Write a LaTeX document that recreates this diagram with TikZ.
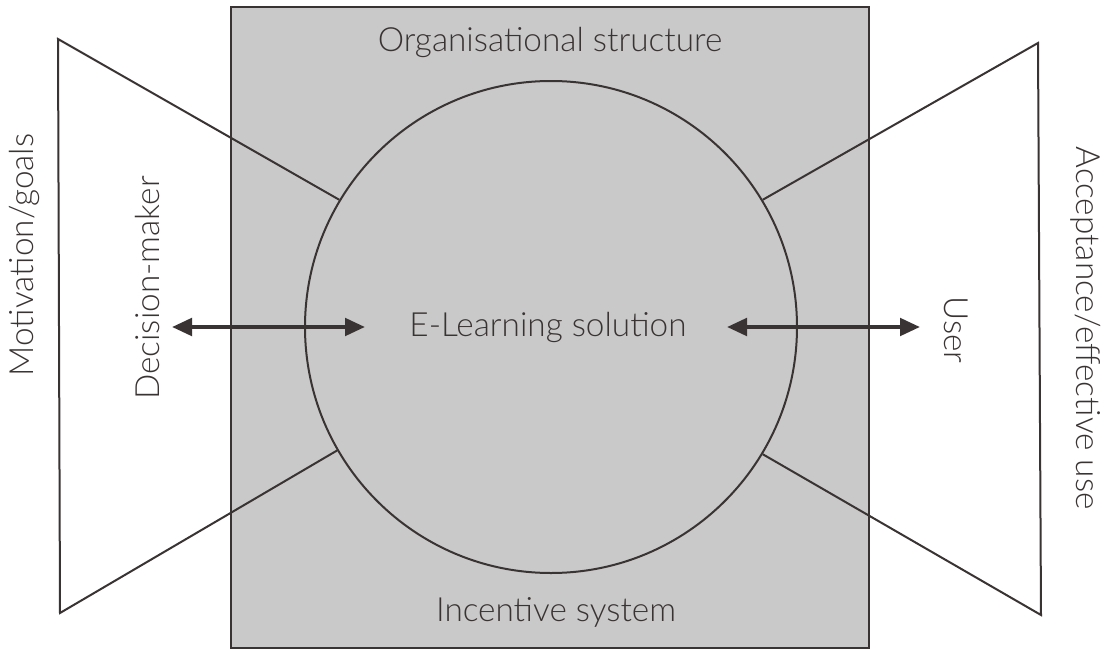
\documentclass[tikz,border=0pt]{standalone}
\usepackage{fontspec}
\setmainfont{Lato}[UprightFont=* Light]
\usetikzlibrary{arrows.meta}
\definecolor{ink}{HTML}{3A3333}
\definecolor{boxgray}{HTML}{C9C9C9}
\tikzset{
  edge/.style={draw=ink, line width=1.5pt},
  twoway/.style={draw=ink, line width=3pt, {Triangle[length=15pt,width=13pt]}-{Triangle[length=15pt,width=13pt]}},
  lbl/.style={text=ink, inner sep=0pt, font=\fontsize{25}{28}\selectfont},
}
\begin{document}
\begin{tikzpicture}[x=0.75pt, y=-0.75pt]
\useasboundingbox (0,0) rectangle (1108,650);
% square
\node[draw=ink, line width=1.8pt, fill=boxgray, minimum width=478.5pt, minimum height=480.75pt, inner sep=0pt] (sq) at (550,327.5) {};
% circle
\node[circle, draw=ink, line width=1.5pt, minimum size=369pt, inner sep=0pt] (c) at (551,327) {};
% left trapezoid
\coordinate (lt) at (58,39);
\coordinate (lb) at (60,613);
\draw[edge] (c.149) -- (lt) -- (lb) -- (c.210.5);
% right trapezoid
\coordinate (rt) at (1038,43);
\coordinate (rb) at (1041,615);
\draw[edge] (c.31) -- (rt) -- (rb) -- (c.329);
% texts
\node[lbl] (org) at (550,42) {Organisational structure};
\node[lbl] (inc) at (556,612) {Incentive system};
\node[lbl] (el) at (548,327) {E-Learning solution};
\node[lbl, rotate=90] (dm) at (148,288) {Decision-maker};
\node[lbl, rotate=90] (mg) at (24,255) {Motivation/goals};
\node[lbl, rotate=-90] (us) at (956,330) {User};
\node[lbl, rotate=-90] (ae) at (1086,328) {Acceptance/effective use};
% arrows
\coordinate (al) at (172,327);
\coordinate (ar) at (365,327);
\draw[twoway] (al) -- (ar);
\coordinate (bl) at (727,327);
\coordinate (br) at (920,327);
\draw[twoway] (bl) -- (br);
\end{tikzpicture}
\end{document}
